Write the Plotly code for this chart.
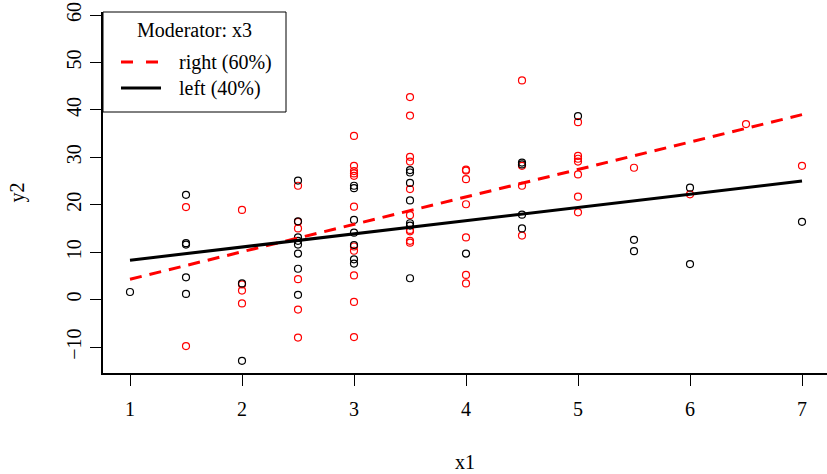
import plotly.graph_objects as go

# Observations by moderator group (x1, y2)
right_x = [1.5, 1.5,
           2, 2, 2, 2,
           2.5, 2.5, 2.5, 2.5, 2.5, 2.5,
           3, 3, 3, 3, 3, 3, 3, 3, 3, 3, 3,
           3.5, 3.5, 3.5, 3.5, 3.5, 3.5, 3.5, 3.5, 3.5, 3.5,
           4, 4, 4, 4, 4, 4, 4,
           4.5, 4.5, 4.5, 4.5,
           5, 5, 5, 5, 5, 5, 5,
           5.5, 6, 6.5, 7]
right_y = [19.5, -9.8,
           18.9, 3.2, 1.9, -0.8,
           24.0, 16.4, 15.0, 4.3, -2.1, -8.0,
           34.5, 28.2, 27.1, 26.6, 26.1, 19.6, 11.2, 10.3, 5.1, -0.5, -7.9,
           42.7, 38.8, 30.1, 29.1, 23.3, 17.8, 14.7, 14.4, 12.4, 12.0,
           27.4, 27.2, 25.4, 20.1, 13.1, 5.2, 3.4,
           46.2, 28.2, 24.0, 13.5,
           37.4, 30.3, 29.7, 29.1, 26.4, 21.7, 18.4,
           27.8, 22.2, 37.0, 28.2]

left_x = [1,
          1.5, 1.5, 1.5, 1.5, 1.5,
          2, 2,
          2.5, 2.5, 2.5, 2.5, 2.5, 2.5, 2.5, 2.5,
          3, 3, 3, 3, 3, 3, 3,
          3.5, 3.5, 3.5, 3.5, 3.5, 3.5, 3.5,
          4,
          4.5, 4.5, 4.5, 4.5,
          5,
          5.5, 5.5,
          6, 6,
          7]
left_y = [1.6,
          22.1, 11.9, 11.6, 4.7, 1.2,
          3.4, -12.9,
          25.1, 16.5, 13.1, 12.4, 11.6, 9.7, 6.5, 1.0,
          24.0, 23.5, 16.8, 14.1, 11.5, 8.5, 7.6,
          27.3, 26.8, 24.6, 20.9, 16.1, 15.6, 4.5,
          9.7,
          28.9, 28.5, 17.9, 15.0,
          38.7,
          12.6, 10.2,
          23.6, 7.5,
          16.4]

# Fitted simple slopes at the ends of the x1 range
fit_x = [1, 7]
fit_right = [4.3, 39.0]
fit_left = [8.3, 25.0]

legend_title = "Moderator: x3"
legend_labels = ["right (60%)", "left (40%)"]

x_ticks = [1, 2, 3, 4, 5, 6, 7]
y_ticks = [-10, 0, 10, 20, 30, 40, 50, 60]

FONT = "Liberation Serif"
RED = "#FF0000"

fig = go.Figure()
fig.add_trace(go.Scatter(x=right_x, y=right_y, mode="markers",
                         marker=dict(symbol="circle-open", size=7, color=RED,
                                     line=dict(width=1.2, color=RED)),
                         showlegend=False))
fig.add_trace(go.Scatter(x=left_x, y=left_y, mode="markers",
                         marker=dict(symbol="circle-open", size=7, color="black",
                                     line=dict(width=1.2, color="black")),
                         showlegend=False))
fig.add_trace(go.Scatter(x=fit_x, y=fit_right, mode="lines",
                         line=dict(color=RED, width=3, dash="12px,8px"),
                         showlegend=False))
fig.add_trace(go.Scatter(x=fit_x, y=fit_left, mode="lines",
                         line=dict(color="black", width=3),
                         showlegend=False))

# Plot region in pixels
W, H = 827, 474
L, R, T, B = 103, 827, 12, 373


def px(x):
    return (x - L) / (R - L)


def py(y):
    return (B - y) / (B - T)


shapes = [
    dict(type="rect", xref="paper", yref="paper",
         x0=0, x1=px(286), y0=py(112), y1=1,
         line=dict(color="black", width=1), fillcolor="white", layer="above"),
    dict(type="line", xref="paper", yref="paper",
         x0=px(121), x1=px(158), y0=py(62), y1=py(62),
         line=dict(color=RED, width=3, dash="12px,13px"), layer="above"),
    dict(type="line", xref="paper", yref="paper",
         x0=px(121), x1=px(161), y0=py(88), y1=py(88),
         line=dict(color="black", width=3), layer="above"),
]

annotations = [
    dict(text=legend_title, xref="paper", yref="paper", x=px(194), y=py(30),
         xanchor="center", yanchor="middle", showarrow=False,
         font=dict(family=FONT, size=20, color="black")),
    dict(text=legend_labels[0], xref="paper", yref="paper", x=px(177), y=py(62),
         xanchor="left", yanchor="middle", showarrow=False,
         font=dict(family=FONT, size=20, color="black")),
    dict(text=legend_labels[1], xref="paper", yref="paper", x=px(177), y=py(88),
         xanchor="left", yanchor="middle", showarrow=False,
         font=dict(family=FONT, size=20, color="black")),
]

fig.update_layout(
    width=W, height=H,
    margin=dict(l=L, r=W - R, t=T, b=H - B, pad=0),
    paper_bgcolor="white", plot_bgcolor="white",
    font=dict(family=FONT, size=20, color="black"),
    shapes=shapes, annotations=annotations,
    showlegend=False,
)
fig.update_xaxes(
    range=[1 - 27 / 112, 7 + 25 / 112],
    tickvals=x_ticks, ticktext=[str(v) for v in x_ticks],
    ticks="outside", ticklen=11, tickwidth=1, tickcolor="black",
    showline=True, linecolor="black", linewidth=1.5,
    showgrid=False, zeroline=False, ticklabelstandoff=6,
    title=dict(text="x1", standoff=36, font=dict(family=FONT, size=20)),
)
fig.update_yaxes(
    range=[(299.6 - 373) / 4.743, (299.6 - 12) / 4.743],
    tickvals=y_ticks, ticktext=[str(v).replace("-", "\u2212") for v in y_ticks],
    tickangle=-90,
    ticks="outside", ticklen=11, tickwidth=1, tickcolor="black",
    showline=True, linecolor="black", linewidth=1.5,
    showgrid=False, zeroline=False, ticklabelstandoff=1,
    title=dict(text="y2", standoff=33, font=dict(family=FONT, size=20)),
)

fig.write_html("out.html")
